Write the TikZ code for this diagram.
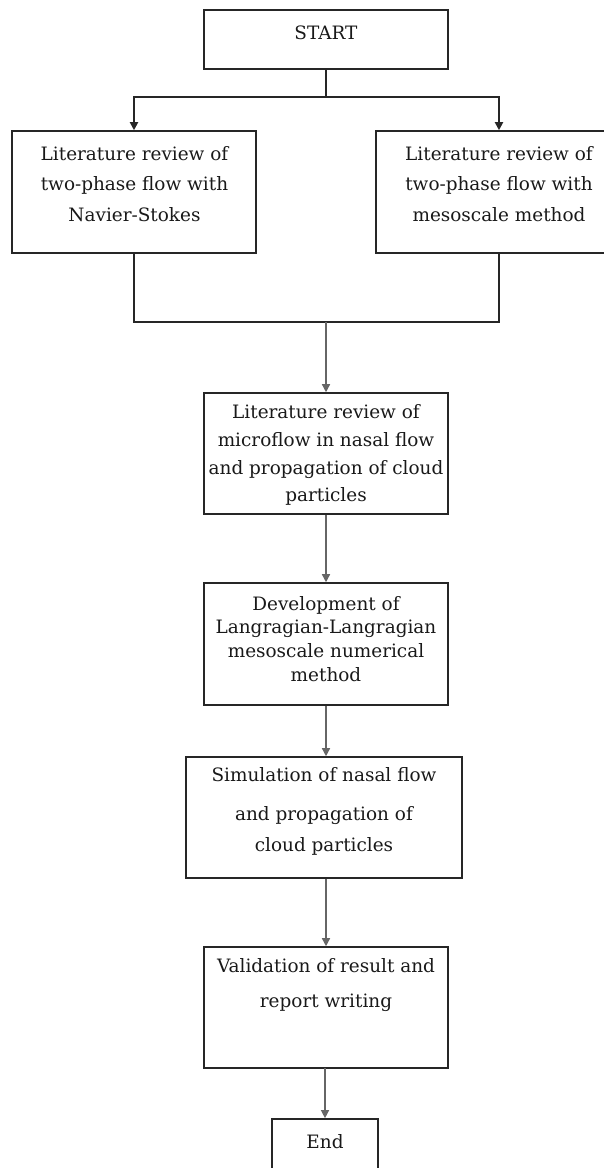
\documentclass[tikz,border=0pt]{standalone}
\usepackage{fontspec}
\setmainfont{DejaVu Serif}
\usetikzlibrary{arrows.meta}
\begin{document}
\begin{tikzpicture}[x=1bp,y=-1bp,
  box/.style={draw=black!85, line width=2bp, minimum width=#1, inner sep=0pt},
  bh/.style={minimum height=#1},
  txt/.style={align=center, text=black!90, inner sep=0pt, font=\fontsize{18.5}{#1}\selectfont},
  conn/.style={draw=black!60, line width=1.3bp},
  dconn/.style={draw=black!85, line width=1.8bp},
  arr/.style={-{Triangle[length=8bp,width=8bp]}}]
\clip (0,0) rectangle (604,1168);
\useasboundingbox (0,0) rectangle (604,1168);
% boxes
\node[box=244, bh=59] (start) at (326,39.5) {};
\node[box=244, bh=122] (b1) at (134,192) {};
\node[box=246, bh=122] (b2) at (499,192) {};
\node[box=244, bh=121] (b3) at (326,453.5) {};
\node[box=244, bh=122] (b4) at (326,644) {};
\node[box=278, bh=121] (b5) at (324,817.5) {};
\node[box=244, bh=121] (b6) at (326,1007.5) {};
\node[box=106, bh=90] (end) at (325,1164) {};
% texts
\node[txt=20] (tstart) at (326,33) {START};
\node[txt=30.5] (t1) at (134.5,184) {Literature review of\\two-phase flow with\\Navier-Stokes};
\node[txt=30.5] (t2) at (499,184) {Literature review of\\two-phase flow with\\mesoscale method};
\node[txt=28] (t3) at (326,455) {Literature review of\\microflow in nasal flow\\and propagation of cloud\\particles};
\node[txt=24] (t4) at (326,639) {Development of\\Langragian-Langragian\\mesoscale numerical\\method};
\node[txt=32] (t5) at (324,811.5) {Simulation of nasal flow\\[7bp]and propagation of\\cloud particles};
\node[txt=36] (t6) at (326,985) {Validation of result and\\report writing};
\node[txt=20] (tend) at (325,1142) {End};
% connectors
\coordinate (split) at (326,97);
\coordinate (join) at (326,322);
\draw[dconn] (start.south) -- (split);
\draw[dconn,arr] (split) -| (b1.north);
\draw[dconn,arr] (split) -| (b2.north);
\draw[dconn] (b1.south) |- (join);
\draw[dconn] (b2.south) |- (join);
\draw[conn,arr] (join) -- (b3.north);
\draw[conn,arr] (b3.south) -- (b4.north);
\draw[conn,arr] (b4.south) -- (b4.south |- b5.north);
\draw[conn,arr] (b5.south -| b6.north) -- (b6.north);
\draw[conn,arr] (b6.south) -- (b6.south -| end.north) -- (end.north);
\end{tikzpicture}
\end{document}
